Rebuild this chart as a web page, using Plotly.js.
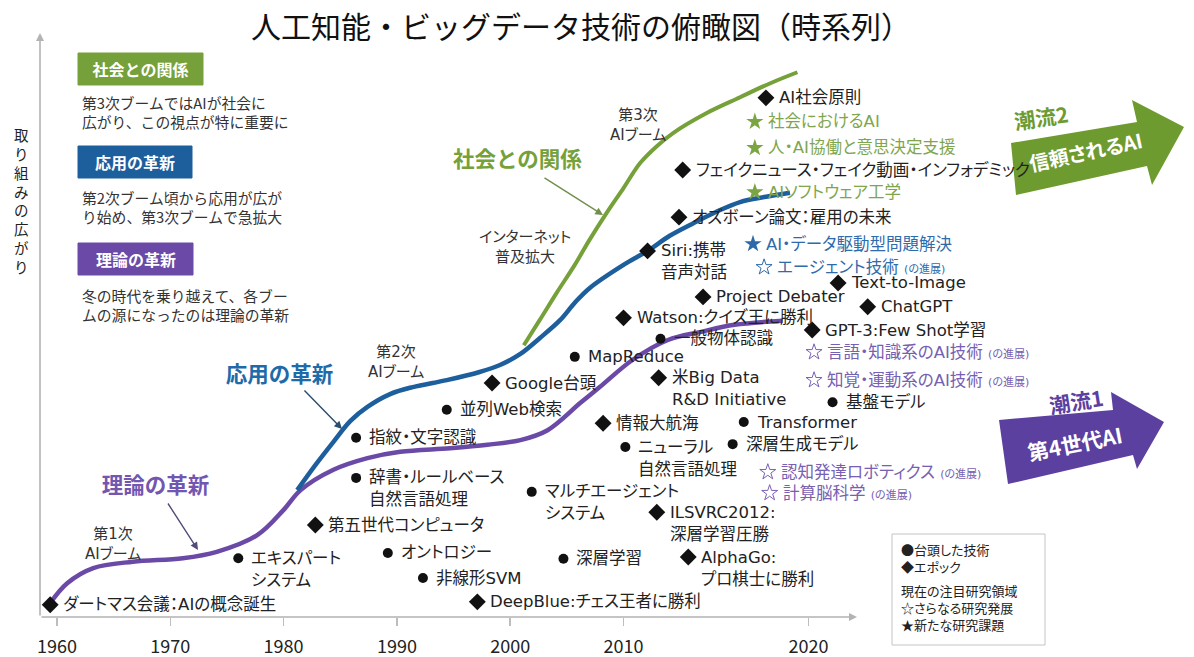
<!DOCTYPE html>
<html><head><meta charset="utf-8">
<script src="https://cdn.plot.ly/plotly-3.0.1.min.js"></script>
<style>
html,body{margin:0;padding:0;background:#fff}
#chart{width:1194px;height:657px}
text{font-feature-settings:"palt" 1}
.gtitle{font-feature-settings:normal !important}
</style>
</head><body><div id="chart"></div>
<script>
// ================= DATA =================
const chartTitle = '人工知能・ビッグデータ技術の俯瞰図（時系列）';
const yAxisTitle = '取り組みの広がり';
const tickYears = [1960, 1970, 1980, 1990, 2000, 2010, 2020];

// Curves: year, level (arbitrary "広がり" units 0-100)
const theoryYears  = [1959.4,1960.9,1963.2,1966.7,1971.1,1974.1,1977.7,1980.0,1981.5,1984.4,1987.4,1990.3,1994.7,1998.0,2000.9,2003.3,2006.2,2007.9,2010.5,2012.4,2014.2,2016.0,2018.6];
const theoryLevels = [2.4,5.8,8.4,9.5,10.1,11.2,14.1,18.4,21.8,25.3,27.3,28.4,29.0,29.6,30.4,32.1,36.8,39.5,44.2,47.6,49.0,50.2,50.9];

const appYears  = [1981.2,1982.8,1984.4,1985.9,1987.4,1989.4,1991.4,1994.4,1997.3,1999.1,2000.9,2002.6,2004.4,2005.7,2007.0,2010.0,2011.3,2012.5,2013.8,2015.0,2016.3,2017.7,2019.0];
const appLevels = [21.8,26.1,30.1,33.7,36.1,38.3,39.5,40.7,42.1,43.3,45.2,47.9,51.0,54.0,56.5,60.5,62.9,65.5,67.7,69.6,71.3,72.2,72.9];

const societyYears  = [2001.2,2002.6,2004.1,2005.7,2007.0,2008.5,2010.0,2010.9,2011.8,2012.7,2014.5,2016.3,2018.0,2019.4];
const societyLevels = [46.7,51.0,55.7,60.5,64.8,69.4,73.7,78.0,80.9,83.2,86.6,89.3,91.8,93.6];

// 台頭した技術 (●)
const techLabels = ['エキスパート<br>システム','辞書・ルールベース<br>自然言語処理','指紋・文字認識','オントロジー','非線形SVM','並列Web検索','マルチエージェント<br>システム','深層学習','MapReduce','ニューラル<br>自然言語処理','一般物体認識','深層生成モデル','Transformer','基盤モデル'];
const techYears  = [1976.0,1986.4,1986.4,1989.2,1992.3,1994.4,2001.9,2004.7,2005.7,2010.1,2012.0,2015.9,2016.5,2021.3];
const techLevels = [10.1,23.9,30.8,11.0,6.7,35.6,21.5,10.0,44.7,29.2,47.8,29.7,33.5,36.9];

// エポック (◆)
const epochLabels = ['ダートマス会議：AIの概念誕生','第五世代コンピュータ','DeepBlue:チェス王者に勝利','Google台頭','情報大航海','Watson:クイズ王に勝利','Siri:携帯<br>音声対話','米Big Data<br>R&D Initiative','ILSVRC2012:<br>深層学習圧勝','AlphaGo:<br>プロ棋士に勝利','フェイクニュース・フェイク動画・インフォデミック','オズボーン論文：雇用の未来','Project Debater','AI社会原則','GPT-3:Few Shot学習','Text-to-Image','ChatGPT'];
const epochYears  = [1959.4,1982.8,1997.1,1998.4,2008.2,2010.0,2011.3,2011.9,2011.8,2013.5,2013.2,2013.0,2014.3,2017.7,2020.2,2021.6,2023.2];
const epochLevels = [2.1,15.8,2.6,40.2,33.3,51.4,62.9,41.1,18.0,10.3,76.8,68.7,55.0,89.2,49.3,57.4,53.3];

// 新たな研究課題 (★)
const newLabels = ['社会におけるAI','人・AI協働と意思決定支援','AIソフトウェア工学','AI・データ駆動型問題解決'];
const newYears  = [2017.1,2017.1,2017.1,2017.0];
const newLevels = [85.1,80.6,73.0,64.1];
const newGroups = ['society','society','society','application'];

// さらなる研究発展 (☆)
const furtherLabels = ['エージェント技術','言語・知識系のAI技術','知覚・運動系のAI技術','認知発達ロボティクス','計算脳科学'];
const furtherYears  = [2017.6,2020.3,2020.3,2017.8,2017.9];
const furtherLevels = [60.1,45.5,40.7,24.9,21.3];
const furtherGroups = ['application','theory','theory','theory','theory'];
const furtherSuffix = '(の進展)';

const streamNames = ['社会との関係','応用の革新','理論の革新'];
const streamNotes = [['第3次ブームではAIが社会に','広がり、この視点が特に重要に'],
                     ['第2次ブーム頃から応用が広が','り始め、第3次ブームで急拡大'],
                     ['冬の時代を乗り越えて、各ブー','ムの源になったのは理論の革新']];
const boomLabels = [['第1次','AIブーム'],['第2次','AIブーム'],['第3次','AIブーム'],['インターネット','普及拡大']];
const trendTitles = ['潮流2','潮流1'];
const trendNames  = ['信頼されるAI','第4世代AI'];
const legendLines = ['●台頭した技術','◆エポック','現在の注目研究領域','☆さらなる研究発展','★新たな研究課題'];

// ================= STYLE / LAYOUT =================
const FONT = "'Noto Sans CJK JP', 'Noto Sans', sans-serif";
const LFONT = "'DejaVu Sans', 'Noto Sans CJK JP', sans-serif";
const W = 1194, H = 657, L = 40, R = 10, T = 35, B = 40;
const PW = W - L - R, PH = H - T - B;
const PX_PER_YEAR = 11.33;
const STRETCH = 18.5 / 11.33;             // the 2010s decade is drawn wider in the original
function toX(y) { return y <= 2010 ? y : 2010 + (y - 2010) * STRETCH; }
const X0 = 1958.5, X1 = X0 + PW / PX_PER_YEAR;

const COL = { society: '#76a13a', application: '#1d5e9c', theory: '#6a4aa6' };
const STARCOL = { society: '#7ba443', application: '#2d69a8', theory: '#7a62b4' };
const TXTCOL = { society: '#7fa64c', application: '#2f6bab', theory: '#7660b2' };

function pp(x, y) { return { xref: 'paper', yref: 'paper', x: (x - L) / PW, y: (H - B - y) / PH }; }
const ann = [];
const noPalt = [];
function txt(x, y, text, size, color, extra, family) {
  ann.push(Object.assign(pp(x, y), { text: text, showarrow: false, xanchor: 'center', yanchor: 'middle',
    font: { family: family || FONT, size: size, color: color } }, extra || {}));
}
function pointLabel(xv, yv, text, color) {
  text.split('<br>').forEach(function (line, i) {
    ann.push({ xref: 'x', yref: 'y', x: xv, y: yv, text: line, showarrow: false, xanchor: 'left', align: 'left', yanchor: 'middle',
      xshift: 11, yshift: -i * 22, font: { family: LFONT, size: 16.5, color: color } });
  });
}

const traces = [
  { x: theoryYears.map(toX), y: theoryLevels, mode: 'lines', line: { color: COL.theory, width: 4.5, shape: 'spline', smoothing: 1 } },
  { x: appYears.map(toX), y: appLevels, mode: 'lines', line: { color: COL.application, width: 4.5, shape: 'spline', smoothing: 1 } },
  { x: societyYears.map(toX), y: societyLevels, mode: 'lines', line: { color: COL.society, width: 4, shape: 'spline', smoothing: 1 } },
  { x: techYears.map(toX), y: techLevels, mode: 'markers', marker: { symbol: 'circle', size: 10, color: '#111' } },
  { x: epochYears.map(toX), y: epochLevels, mode: 'markers', marker: { symbol: 'diamond', size: 13, color: '#111' } },
  { x: newYears.map(toX), y: newLevels, mode: 'markers', marker: { symbol: 'star', size: 13, color: newGroups.map(g => STARCOL[g]) } },
  { x: furtherYears.map(toX), y: furtherLevels, mode: 'markers', marker: { symbol: 'star-open', size: 12, color: furtherGroups.map(g => STARCOL[g]), line: { width: 1 } } }
];

techLabels.forEach((t, i) => pointLabel(toX(techYears[i]), techLevels[i], t, '#222'));
epochLabels.forEach((t, i) => pointLabel(toX(epochYears[i]), epochLevels[i], t, '#222'));
newLabels.forEach((t, i) => pointLabel(toX(newYears[i]), newLevels[i], t, TXTCOL[newGroups[i]]));
furtherLabels.forEach((t, i) => pointLabel(toX(furtherYears[i]), furtherLevels[i],
  t + ' <span style="font-size:11px">' + furtherSuffix + '</span>', TXTCOL[furtherGroups[i]]));

// axes arrows
ann.push(Object.assign(pp(857, 617), { text: '', showarrow: true, ax: -(857 - 40), ay: 0, arrowhead: 2, arrowsize: 1, arrowwidth: 1.6, arrowcolor: '#b3b3b3' }));
ann.push(Object.assign(pp(40, 33), { text: '', showarrow: true, ax: 0, ay: 617 - 33, arrowhead: 2, arrowsize: 1, arrowwidth: 1.6, arrowcolor: '#b3b3b3' }));

// y-axis title, vertical (one character per line)
noPalt.push(ann.length);
txt(21, 200, Array.from(yAxisTitle).join('<br>'), 14.5, '#222');

// left explanatory boxes
const boxRects = [[78, 53, 203, 85], [78, 146, 192, 178], [78, 243, 193, 275]];
const boxCols = [COL.society, COL.application, COL.theory];
const noteY = [112.5, 207, 304.5];
const shapes = [];
boxRects.forEach((r, i) => {
  const a = pp(r[0], r[3]), b = pp(r[2], r[1]);
  shapes.push({ type: 'rect', xref: 'paper', yref: 'paper', x0: a.x, y0: a.y, x1: b.x, y1: b.y, fillcolor: boxCols[i], line: { width: 1, color: boxCols[i] } });
  noPalt.push(ann.length);
  txt((r[0] + r[2]) / 2, (r[1] + r[3]) / 2, streamNames[i], 16, '#fff', { font: { family: FONT, size: 16, color: '#fff', weight: 'bold' } });
  noPalt.push(ann.length);
  txt(80, noteY[i], streamNotes[i].join('<br>'), 14.8, '#333', { xanchor: 'left', align: 'left' });
});

// curve labels with pointer arrows
const curveLabelPos = [[517, 157], [279, 373], [155, 483]];
const curveLabelCol = [COL.society, '#1f6aa8', '#7256b0'];
curveLabelPos.forEach((p, i) => { noPalt.push(ann.length); txt(p[0], p[1], streamNames[i], 21.5, curveLabelCol[i], { font: { family: FONT, size: 21.5, color: curveLabelCol[i], weight: 'bold' } }); });
const pointers = [[603, 215, 543, 177, '#6f8f4a'], [342, 429, 303, 389, '#2b4d6e'], [198, 550, 167, 502, '#544c78']];
pointers.forEach(p => ann.push(Object.assign(pp(p[0], p[1]), { text: '', showarrow: true, ax: p[2] - p[0], ay: p[3] - p[1], arrowhead: 2, arrowsize: 1.1, arrowwidth: 1.4, arrowcolor: p[4] })));

// boom labels
const boomPos = [[113, 544], [396, 362], [638, 125], [525, 247]];
boomLabels.forEach((lines, i) => txt(boomPos[i][0], boomPos[i][1], lines.join('<br>'), 15, '#333', null, LFONT));

// trend block arrows
function pathOf(pts) { return pts.map((p, i) => { const q = pp(p[0], p[1]); return (i ? 'L' : 'M') + q.x + ',' + q.y; }).join(' ') + ' Z'; }
const greenArrow = [[1011, 143], [1137, 122], [1132, 100], [1184, 127], [1152, 185], [1147, 166], [1016, 195]];
const purpleArrow = [[999, 420], [1113, 410], [1111, 392], [1164, 422], [1137, 469], [1133, 455], [1008, 484]];
shapes.push({ type: 'path', xref: 'paper', yref: 'paper', path: pathOf(greenArrow), fillcolor: '#6e9b2f', line: { width: 0 } });
shapes.push({ type: 'path', xref: 'paper', yref: 'paper', path: pathOf(purpleArrow), fillcolor: '#5b40a0', line: { width: 0 } });
txt(1041, 117, trendTitles[0], 21, '#6e9b2f', { textangle: -8, font: { family: FONT, size: 21, color: '#6e9b2f', weight: 'bold' } });
txt(1085, 152, trendNames[0], 20, '#fff', { textangle: -12, font: { family: FONT, size: 20, color: '#fff', weight: 'bold' } });
txt(1076, 401, trendTitles[1], 21, '#5b40a0', { textangle: -9, font: { family: FONT, size: 21, color: '#5b40a0', weight: 'bold' } });
txt(1075, 443, trendNames[1], 21, '#fff', { textangle: -11, font: { family: FONT, size: 21, color: '#fff', weight: 'bold' } });

// legend box
{ const a = pp(892, 645), b = pp(1045, 534);
  shapes.push({ type: 'rect', xref: 'paper', yref: 'paper', x0: a.x, y0: a.y, x1: b.x, y1: b.y, fillcolor: '#fff', line: { width: 1, color: '#c4c4c4' } }); }
txt(899, 558, legendLines.slice(0, 2).join('<br>'), 13, '#222', { xanchor: 'left', align: 'left' });
txt(899, 607, legendLines.slice(2).join('<br>'), 13, '#222', { xanchor: 'left', align: 'left' });

const layout = {
  width: W, height: H,
  margin: { l: L, r: R, t: T, b: B },
  paper_bgcolor: '#fff', plot_bgcolor: '#fff',
  showlegend: false,
  title: { text: chartTitle, x: 581 / W, xanchor: 'center', y: 1 - 27 / H, yanchor: 'middle', font: { family: FONT, size: 30, color: '#111' } },
  xaxis: { range: [X0, X1], tickvals: tickYears.map(toX), ticktext: tickYears.map(String), ticks: 'outside', ticklen: 8, tickwidth: 1.5, tickcolor: '#bdbdbd',
    showline: false, showgrid: false, zeroline: false, ticklabelstandoff: 5, tickfont: { family: FONT, size: 18, color: '#222' } },
  yaxis: { range: [0, 100], visible: false, showgrid: false, zeroline: false },
  shapes: shapes,
  annotations: ann
};
Plotly.newPlot('chart', traces, layout, { displayModeBar: false, staticPlot: true }).then(function () {
  const css = noPalt.map(i => 'g.annotation[data-index="' + i + '"] text').join(',') + '{font-feature-settings:normal !important}';
  const st = document.createElement('style'); st.textContent = css; document.head.appendChild(st);
});
</script></body></html>
